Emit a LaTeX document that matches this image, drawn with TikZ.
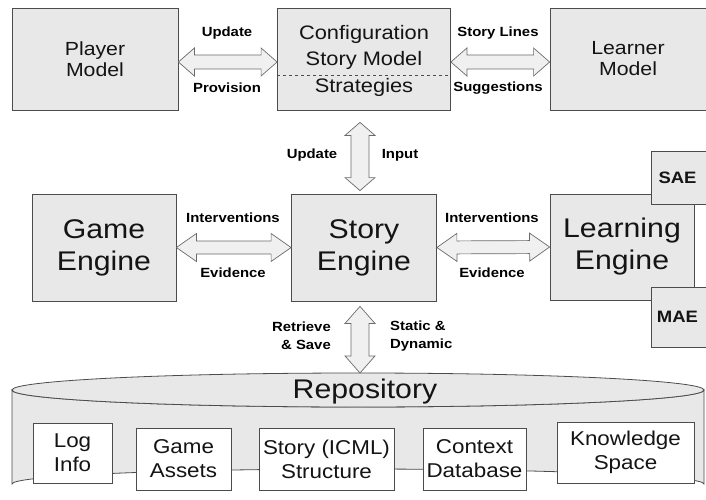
\documentclass[tikz,border=0pt]{standalone}
\usepackage{fontspec}
\setmainfont[FakeStretch=1.12]{Liberation Sans}
\usetikzlibrary{calc}
\definecolor{boxfill}{gray}{0.91}
\definecolor{boxline}{gray}{0.3}
\definecolor{arrowfill}{gray}{0.94}
\definecolor{arrowline}{gray}{0.42}

\begin{document}
\begin{tikzpicture}[x=1pt,y=-1pt,
  box/.style={draw=boxline,fill=boxfill,line width=0.8pt,inner sep=0pt,align=center,text=black!92},
  inbox/.style={box,fill=white},
  midtext/.style={font=\fontsize{19}{21}\selectfont},
  bigtext/.style={font=\fontsize{27}{32}\selectfont},
  lbl/.style={inner sep=0pt,align=center,font=\fontsize{13.3}{18}\selectfont\bfseries},
  fatarrow/.style n args={3}{draw=arrowline,fill=arrowfill,line width=0.7pt,
    to path={($(\tikztostart)!#1!(\tikztotarget)$) coordinate (fh1)
      ($(\tikztotarget)!#1!(\tikztostart)$) coordinate (fh2)
      (\tikztostart) -- ($(fh1)!#2!90:(\tikztotarget)$) -- ($(fh1)!#3!90:(\tikztotarget)$)
      -- ($(fh2)!#3!-90:(\tikztostart)$) -- ($(fh2)!#2!-90:(\tikztostart)$) -- (\tikztotarget)
      -- ($(fh2)!#2!90:(\tikztostart)$) -- ($(fh2)!#3!90:(\tikztostart)$)
      -- ($(fh1)!#3!-90:(\tikztotarget)$) -- ($(fh1)!#2!-90:(\tikztotarget)$) -- cycle}}]
\useasboundingbox (0,0) rectangle (706,500);

% top row
\node[box,midtext,minimum width=166pt,minimum height=102pt] (pm) at (95,59) {Player\\Model};
\node[box,minimum width=173pt,minimum height=102pt] (cfg) at (364,59) {};
\node[midtext,inner sep=0pt,align=center,text=black!92,font=\fontsize{19.5}{26}\selectfont] (cfgtext) at (364,47) {Configuration\\Story Model};
\node[midtext,inner sep=0pt,text=black!92,font=\fontsize{19.5}{26}\selectfont] (strat) at (364,87) {Strategies};
\draw[boxline,dashed,line width=0.5pt] ([yshift=-16pt]cfg.west) -- ([yshift=-16pt]cfg.east);
\node[box,midtext,minimum width=156pt,minimum height=102pt] (lm) at (628,59) {Learner\\Model};

% middle row
\node[box,bigtext,minimum width=144pt,minimum height=107pt] (ge) at (104,247.5) {Game\\Engine};
\node[box,bigtext,minimum width=145pt,minimum height=107pt] (se) at (364,247.5) {Story\\Engine};
\node[box,bigtext,minimum width=144pt,minimum height=106pt] (le) at (622,247) {Learning\\Engine};
\node[box,font=\fontsize{16.5}{18}\selectfont\bfseries,minimum width=57pt,minimum height=53pt] (sae) at (679.5,178) {\hspace*{-4pt}SAE};
\node[box,font=\fontsize{16.5}{18}\selectfont\bfseries,minimum width=57pt,minimum height=60pt] (mae) at (679.5,317) {\hspace*{-4pt}MAE};

% repository
\draw[boxline,fill=boxfill,line width=0.8pt] (12,390) -- (12,484) arc[start angle=180,end angle=360,x radius=346,y radius=15]
  -- (704,390) arc[start angle=0,end angle=180,x radius=346,y radius=17] -- cycle;
\draw[boxline,fill=boxfill,line width=0.8pt] (358,390) ellipse[x radius=346,y radius=17];
\coordinate (repotop) at (360,373);
\node[bigtext,inner sep=0pt,text=black!92] (repo) at (365,392) {Repository};
\node[inbox,font=\fontsize{20}{24}\selectfont,minimum width=79pt,minimum height=60pt] (log) at (72.5,453) {Log\\Info};
\node[inbox,font=\fontsize{20}{24}\selectfont,minimum width=95pt,minimum height=62pt] (assets) at (183.5,459) {Game\\Assets};
\node[inbox,font=\fontsize{20}{24}\selectfont,minimum width=135pt,minimum height=62pt] (icml) at (326.5,459) {Story (ICML)\\Structure};
\node[inbox,font=\fontsize{20}{24}\selectfont,minimum width=103pt,minimum height=62pt] (ctx) at (474.5,459) {Context\\Database};
\node[inbox,font=\fontsize{20}{24}\selectfont,minimum width=137pt,minimum height=61pt] (ks) at (625.5,452.5) {Knowledge\\Space};

% connectors
\draw[fatarrow={16pt}{14pt}{7pt}] ([yshift=-3pt]pm.east) to ([yshift=-3pt]cfg.west);
\draw[fatarrow={16pt}{14pt}{7pt}] ([yshift=-3pt]cfg.east) to ([yshift=-3pt]lm.west);
\draw[fatarrow={13pt}{15pt}{9pt}] ([xshift=-4pt,yshift=-12pt]cfg.south) to ([xshift=-4pt,yshift=3pt]se.north);
\draw[fatarrow={20pt}{14pt}{6.5pt}] (ge.east) to (se.west);
\draw[fatarrow={20pt}{14pt}{6.5pt}] (se.east) to (le.west);
\draw[fatarrow={17pt}{15pt}{9pt}] ([xshift=-4pt,yshift=-5pt]se.south) to (repotop);

% labels
\node[lbl] (upd1) at (227,33) {Update};
\node[lbl] (prov) at (227,88) {Provision};
\node[lbl] (lines) at (498,33) {Story Lines};
\node[lbl] (sugg) at (498,88) {Suggestions};
\node[lbl] (upd2) at (312,155) {Update};
\node[lbl] (inp) at (400,155) {Input};
\node[lbl] (int1) at (233,218) {Interventions};
\node[lbl] (evi1) at (233,273) {Evidence};
\node[lbl] (int2) at (492,218) {Interventions};
\node[lbl] (evi2) at (492,273) {Evidence};
\node[lbl,align=right,anchor=east] (retr) at (331,336) {Retrieve\\\& Save};
\node[lbl,align=left,anchor=west] (stat) at (390,336) {Static \&\\Dynamic};
\end{tikzpicture}
\end{document}
